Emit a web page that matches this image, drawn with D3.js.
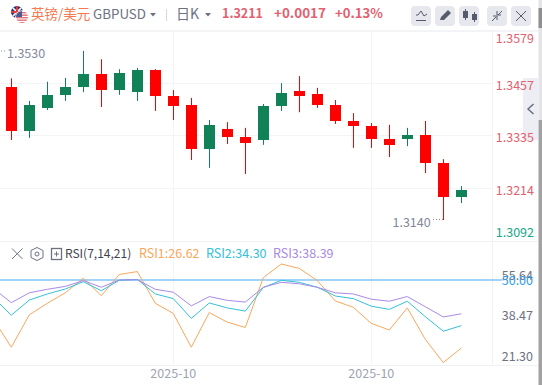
<!DOCTYPE html>
<html><head><meta charset="utf-8">
<script src="https://cdn.jsdelivr.net/npm/d3@7/dist/d3.min.js"></script>
<style>html,body{margin:0;padding:0;background:#fff;overflow:hidden}svg{display:block}
text{font-family:"Noto Sans CJK SC","Noto Sans",sans-serif}</style></head><body>
<svg id="c" width="542" height="385"></svg>
<script>
const opens  = [1.3447,1.3346,1.3399,1.3429,1.3447,1.3477,1.3440,1.3435,1.3486,1.3426,1.3406,1.3304,1.3350,1.3332,1.3325,1.3403,1.3438,1.3431,1.3406,1.3369,1.3357,1.3327,1.3327,1.3337,1.3272,1.3194];
const closes = [1.3346,1.3406,1.3429,1.3447,1.3477,1.3440,1.3479,1.3486,1.3426,1.3403,1.3304,1.3360,1.3332,1.3318,1.3403,1.3433,1.3426,1.3406,1.3369,1.3357,1.3327,1.3314,1.3337,1.3272,1.3194,1.3211];
const highs  = [1.3467,1.3415,1.3459,1.3468,1.3530,1.3511,1.3488,1.3491,1.3488,1.3440,1.3422,1.3371,1.3366,1.3353,1.3408,1.3456,1.3472,1.3445,1.3417,1.3387,1.3364,1.3360,1.3353,1.3369,1.3281,1.3219];
const lows   = [1.3325,1.3330,1.3394,1.3415,1.3435,1.3401,1.3429,1.3415,1.3392,1.3371,1.3279,1.3261,1.3316,1.3247,1.3314,1.3392,1.3389,1.3399,1.3362,1.3307,1.3307,1.3286,1.3311,1.3249,1.3141,1.3180];
const priceTicks = [1.3579,1.3457,1.3335,1.3214,1.3092];
const priceTickLabels = ["1.3579","1.3457","1.3335","1.3214","1.3092"];
const dateTicks = [9,20];
const dateLabels = ["2025-10","2025-10"];
const rsi1 = [36.6,26.9,38.0,42.0,45.6,50.6,44.6,51.9,52.9,42.0,38.5,26.9,38.8,35.5,33.7,50.8,55.5,54.0,49.8,42.8,40.6,35.1,32.8,40.4,29.6,21.6,26.62];
const rsi2 = [44.0,37.9,43.1,45.2,46.9,49.4,46.3,49.9,50.2,45.2,43.6,36.8,42.1,40.4,39.3,47.4,49.9,49.2,47.5,44.5,43.6,41.0,39.9,42.7,37.4,32.4,34.30];
const rsi3 = [47.1,42.2,45.6,46.8,47.8,49.8,47.5,50.0,50.1,46.8,45.8,41.1,44.3,43.0,42.4,47.5,49.2,48.7,47.5,45.6,45.2,43.4,42.7,44.3,40.8,37.3,38.39];
const rsiTicks = [55.64,38.47,21.30];
const rsiLevel = 50;

const svg = d3.select("#c");
const x = d3.scaleLinear().domain([0,25]).range([11.3,461.3]);
const y = d3.scaleLinear().domain([1.3214,1.3335]).range([188.3,135.7]);
const yR = d3.scaleLinear().domain([50,26.62]).range([280,348]);
const yRAxis = d3.scaleLinear().domain([21.30,55.64]).range([356.7,275]);
const grid="#f3f4f8", up="#118157", down="#ff0000", mute="#6d7180";

// grid
[83.5,135.5,188.5].forEach(v=>svg.append("line").attr("x1",0).attr("x2",493).attr("y1",v).attr("y2",v).attr("stroke",grid));
svg.append("line").attr("x1",0).attr("x2",538).attr("y1",31).attr("y2",31).attr("stroke","#f3f4f6").attr("stroke-width",2);
svg.append("line").attr("x1",0).attr("x2",538).attr("y1",241.5).attr("y2",241.5).attr("stroke","#f1f2f6");
svg.append("line").attr("x1",0).attr("x2",538).attr("y1",365.5).attr("y2",365.5).attr("stroke","#f1f2f6");
svg.append("line").attr("x1",492.5).attr("x2",492.5).attr("y1",31).attr("y2",365).attr("stroke","#f1f2f6");
dateTicks.forEach(i=>svg.append("line").attr("x1",Math.floor(x(i))+.5).attr("x2",Math.floor(x(i))+.5).attr("y1",31).attr("y2",365).attr("stroke",grid));

// right strip
svg.append("rect").attr("x",523).attr("y",78).attr("width",15).attr("height",62).attr("fill","#eceef3");
svg.append("path").attr("d","M533.5 104 L528 109 L533.5 114").attr("stroke","#666b7a").attr("fill","none").attr("stroke-width",1.4);
svg.append("rect").attr("x",538.5).attr("y",0).attr("width",3.5).attr("height",120).attr("fill","#e4e4e6");
svg.append("rect").attr("x",538.5).attr("y",8).attr("width",3.5).attr("height",20).attr("fill","#8f8f8f");
svg.append("rect").attr("x",538.5).attr("y",120).attr("width",3.5).attr("height",265).attr("fill","#a2a2a2");

// candles
const idx=d3.range(opens.length);
const g=svg.append("g");
g.selectAll("line.w").data(idx).join("line").attr("class","w")
 .attr("x1",i=>Math.floor(x(i))+.5).attr("x2",i=>Math.floor(x(i))+.5).attr("y1",i=>y(highs[i])).attr("y2",i=>y(lows[i]))
 .attr("stroke",i=>closes[i]>=opens[i]?up:down).attr("stroke-width",1);
g.selectAll("rect").data(idx).join("rect")
 .attr("x",i=>Math.floor(x(i))-5).attr("width",11)
 .attr("y",i=>Math.round(y(Math.max(opens[i],closes[i]))))
 .attr("height",i=>Math.max(1,Math.round(Math.abs(y(opens[i])-y(closes[i])))))
 .attr("fill",i=>closes[i]>=opens[i]?up:down);

// price labels
svg.selectAll("text.p").data(priceTicks).join("text").attr("class","p")
 .attr("x",534).attr("y",(d,i)=>[42.5,89.5,141.5,195,237][i]).attr("text-anchor","end")
 .attr("font-size",12.5).attr("fill",(d,i)=>i==4?"#14a888":"#e2606f").text((d,i)=>priceTickLabels[i]);
svg.append("text").attr("x",7).attr("y",58).attr("font-size",12.5).attr("fill","#85889a").text("1.3530");
svg.append("text").attr("x",392.5).attr("y",226.5).attr("font-size",12.5).attr("fill","#85889a").text("1.3140");
svg.append("line").attr("x1",433).attr("x2",443).attr("y1",219.5).attr("y2",219.5).attr("stroke","#85889a").attr("stroke-dasharray","1 2");
svg.append("line").attr("x1",1).attr("x2",6).attr("y1",51).attr("y2",51).attr("stroke","#85889a").attr("stroke-dasharray","1 2");

// RSI
svg.append("line").attr("x1",0).attr("x2",502).attr("y1",yR(rsiLevel)).attr("y2",yR(rsiLevel)).attr("stroke","#4aa8f5").attr("stroke-width",1.2);
const xr=d3.scaleLinear().domain([-1,25]).range([x(-1),x(25)]);
const line=d3.line().x((d,i)=>xr(i-1)).y(d=>yR(d));
[[rsi1,"#f9a75c"],[rsi2,"#35c0d8"],[rsi3,"#a98ae6"]].forEach(([s,c])=>svg.append("path").attr("d",line(s)).attr("fill","none").attr("stroke",c).attr("stroke-width",1));
svg.selectAll("text.r").data(rsiTicks).join("text").attr("class","r").attr("x",533).attr("y",d=>yRAxis(d)+4.5).attr("text-anchor","end").attr("font-size",12.5).attr("fill",mute).text(d=>d.toFixed(2));
svg.append("text").attr("x",533).attr("y",yR(rsiLevel)+5).attr("text-anchor","end").attr("font-size",12.5).attr("fill","#2f9bf2").text(rsiLevel.toFixed(2));

// date labels
dateTicks.forEach((i,k)=>svg.append("text").attr("x",x(i)).attr("y",378).attr("text-anchor","middle").attr("font-size",12.5).attr("fill","#a0a3b0").text(dateLabels[k]));

// RSI legend
const ly=258;
svg.append("path").attr("d","M12 248.5 L22.5 259 M22.5 248.5 L12 259").attr("stroke",mute).attr("fill","none");
svg.append("path").attr("d","M37 247.5 L43 250.5 L43 257.5 L37 260.5 L31 257.5 L31 250.5 Z").attr("stroke",mute).attr("fill","none");
svg.append("circle").attr("cx",37).attr("cy",254).attr("r",2).attr("stroke",mute).attr("fill","none");
svg.append("rect").attr("x",51.5).attr("y",248.5).attr("width",10).attr("height",11).attr("stroke",mute).attr("fill","none").attr("stroke-width",1.3);
svg.append("path").attr("d","M54 254 H59 M56.5 251.5 V256.5").attr("stroke",mute);
svg.append("text").attr("x",65).attr("y",ly).attr("font-size",12).attr("fill","#40434f").text("RSI(7,14,21)");
svg.append("text").attr("x",139).attr("y",ly).attr("font-size",12.5).attr("fill","#f9a75c").text("RSI1:26.62");
svg.append("text").attr("x",206).attr("y",ly).attr("font-size",12.5).attr("fill","#35c0d8").text("RSI2:34.30");
svg.append("text").attr("x",273).attr("y",ly).attr("font-size",12.5).attr("fill","#a98ae6").text("RSI3:38.39");

// header
const defs=svg.append("defs");
defs.append("clipPath").attr("id","uk").append("circle").attr("cx",17).attr("cy",12).attr("r",6);
defs.append("clipPath").attr("id","us").append("circle").attr("cx",22).attr("cy",17).attr("r",6);
const uk=svg.append("g").attr("clip-path","url(#uk)");
uk.append("rect").attr("x",11).attr("y",6).attr("width",12).attr("height",12).attr("fill","#27367a");
uk.append("path").attr("d","M11 6 L23 18 M23 6 L11 18").attr("stroke","#f2f2f2").attr("stroke-width",1.6);
uk.append("path").attr("d","M17 6 V18 M11 12 H23").attr("stroke","#e23a3a").attr("stroke-width",2);
svg.append("circle").attr("cx",22).attr("cy",17).attr("r",6.8).attr("fill","#fff");
const us=svg.append("g").attr("clip-path","url(#us)");
us.append("rect").attr("x",16).attr("y",11).attr("width",12).attr("height",12).attr("fill","#fff");
[12,14.5,17,19.5,22].forEach(v=>us.append("rect").attr("x",16).attr("y",v).attr("width",12).attr("height",1.4).attr("fill","#e0707a"));
us.append("rect").attr("x",16).attr("y",11).attr("width",6).attr("height",6).attr("fill","#4a5a90");
svg.append("text").attr("x",31).attr("y",19).attr("font-size",13.5).attr("fill","#f5794f").text("英镑/美元");
svg.append("text").attr("x",93).attr("y",19).attr("font-size",12.5).attr("textLength",53).attr("lengthAdjust","spacingAndGlyphs").attr("fill","#6d7180").text("GBPUSD");
svg.append("path").attr("d","M150 13 L156 13 L153 16.5 Z").attr("fill",mute);
svg.append("line").attr("x1",166.5).attr("x2",166.5).attr("y1",9).attr("y2",21).attr("stroke","#d5d7de");
svg.append("text").attr("x",176).attr("y",18.5).attr("font-size",14).attr("fill","#6d7180").text("日K");
svg.append("path").attr("d","M205 13 L211 13 L208 16.5 Z").attr("fill",mute);
[["1.3211",222,41],["+0.0017",274,52],["+0.13%",335,48]].forEach(([t,px,w])=>svg.append("text").attr("x",px).attr("y",18).attr("font-size",13).attr("font-weight",700).attr("textLength",w).attr("lengthAdjust","spacingAndGlyphs").attr("fill","#e2606f").text(t));
[411,435,459,487,511].forEach(px=>svg.append("rect").attr("x",px).attr("y",6).attr("width",20).attr("height",20).attr("rx",4).attr("fill","#e6e8ee"));
svg.append("path").attr("d","M416 15 L418 15 L421 11 L424 16 L427 14 M416 20.5 H426").attr("stroke","#555a6c").attr("fill","none");
svg.append("path").attr("d","M440 20 L441 17 L448 10 L451 13 L444 20 Z M440 21 H451").attr("fill","#555a6c").attr("stroke","none");
svg.append("path").attr("d","M465.5 9 V20 M474.5 12 V22").attr("stroke","#555a6c");
svg.append("rect").attr("x",463).attr("y",11).attr("width",5).attr("height",7).attr("fill","#555a6c");
svg.append("rect").attr("x",472).attr("y",14).attr("width",5).attr("height",6).attr("fill","#555a6c");
svg.append("path").attr("d","M492 21 L496 17 M493 16 H497 V20 M502 11 L498 15 M497 11 V15 H501").attr("stroke","#555a6c").attr("fill","none");
svg.append("path").attr("d","M516 11 L526 21 M526 11 L516 21").attr("stroke","#555a6c").attr("fill","none");
</script></body></html>
